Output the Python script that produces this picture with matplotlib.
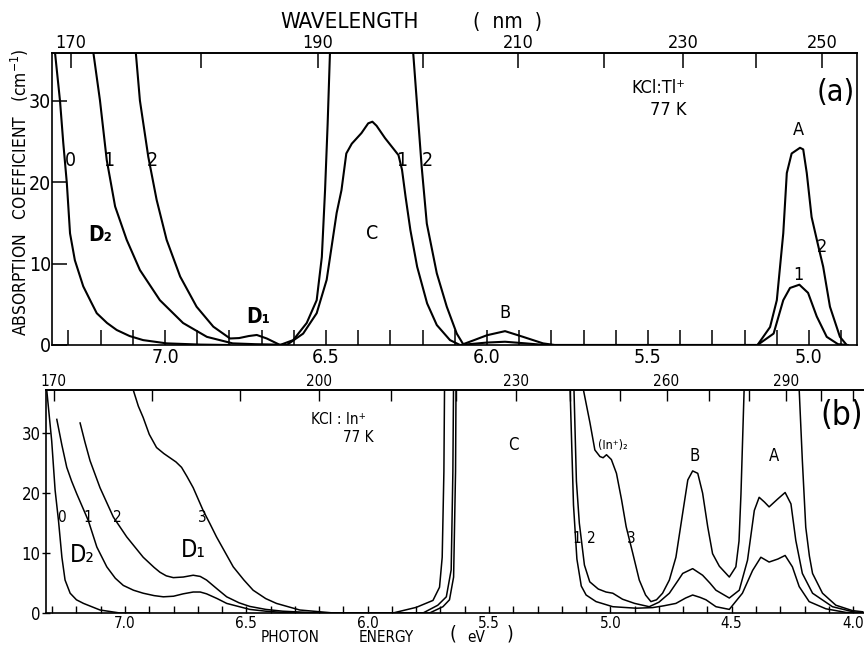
import numpy as np
import matplotlib
matplotlib.use("Agg")
import matplotlib.pyplot as plt
from matplotlib.ticker import MultipleLocator, FixedLocator

nan = np.nan

# ---------------- data: panel (a) KCl:Tl+ 77 K ----------------
a0_E = [7.348, 7.342, 7.326, 7.316, 7.305, 7.295, 7.28, 7.254, 7.23, 7.212, 7.18, 7.15, 7.11, 7.068, 6.995, 6.89, 6.8]
a0_a = [38, 36, 29.9, 24.8, 19.9, 13.7, 10.4, 7.2, 5.3, 3.9, 2.7, 1.84, 1.1, 0.6, 0.2, 0.05, 0]

a1_E = [7.228, 7.223, 7.202, 7.181, 7.155, 7.119, 7.078, 7.016, 6.944, 6.87, 6.79, 6.72, 6.66, 6.622,
        6.571, 6.529, 6.498, 6.467, 6.452, 6.437, 6.42, 6.39, 6.369, 6.356, 6.343, 6.317, 6.291, 6.275,
        6.264, 6.253, 6.238, 6.217, 6.186, 6.156, 6.115, 6.084, 6.0, 5.944, 5.88, 5.82, 5.16, 5.11,
        5.08, 5.059, 5.03, 5.003, 4.976, 4.945, 4.91, 4.88]
a1_a = [38, 36, 30, 22.7, 17, 12.9, 9.2, 5.5, 2.7, 1.0, 0.2, 0.1, 0.05, 0,
        1.4, 3.9, 8.0, 16.2, 19.0, 23.5, 24.7, 26.0, 27.2, 27.4, 26.9, 25.4, 24.1, 23.3,
        21.5, 18.2, 14.1, 9.6, 5.1, 2.45, 0.6, 0, 0.3, 0.4, 0.2, 0, 0, 1.4,
        5.5, 7.0, 7.4, 6.4, 3.5, 1.0, 0.1, 0]

a2_E = [7.095, 7.091, 7.078, 7.052, 7.026, 6.995, 6.953, 6.902, 6.85, 6.798, 6.77, 6.74, 6.715, 6.684,
        6.653, 6.643, 6.602, 6.56, 6.529, 6.513, 6.503, 6.495, 6.486, nan,
        6.232, 6.229, 6.213, 6.203, 6.187, 6.156, 6.125, 6.094, 6.074, 6.04, 6.0, 5.944, 5.888, 5.826,
        5.79, 5.16, 5.121, 5.1, 5.08, 5.069, 5.054, 5.028, 5.018, 5.007, 4.992, 4.971, 4.956, 4.935,
        4.904, 4.883]
a2_a = [38, 36, 30, 23.1, 17.8, 12.9, 8.4, 4.7, 2.25, 0.8, 0.85, 1.1, 1.23, 0.8,
        0.2, 0, 0.6, 2.7, 5.5, 10.8, 19.0, 27.1, 38, nan,
        38, 35.7, 27.2, 21.9, 14.9, 8.8, 4.7, 1.4, 0.1, 0.6, 1.2, 1.7, 1.0, 0.2,
        0, 0, 2.2, 5.5, 13.7, 21.1, 23.5, 24.2, 24.0, 21.1, 15.7, 12.1, 9.6, 4.7,
        1.0, 0]

# ---------------- data: panel (b) KCl:In+ 77 K ----------------
b0_E = [7.33, 7.322, 7.302, 7.288, 7.274, 7.26, 7.247, 7.226, 7.2, 7.171, 7.103, 7.021, 6.9]
b0_a = [40, 37, 28.7, 20.5, 15.4, 9.3, 5.5, 3.3, 2.2, 1.6, 0.5, 0, 0]

b1_E = [7.281, 7.26, 7.24, 7.22, 7.199, 7.151, 7.116, 7.075, 7.04, 7.007, 6.965, 6.925, 6.88, 6.842,
        6.8, 6.76, 6.719, 6.69, 6.664, 6.62, 6.581, 6.486, 6.42, 6.35, 6.2, 5.95, 5.82, 5.745, 5.69,
        5.663, 5.646, 5.638, 5.635, nan,
        5.168, 5.166, 5.152, 5.138, 5.12, 5.1, 5.059, 4.99, 4.894, 4.826, 4.78, 4.73, 4.69, 4.661,
        4.63, 4.606, 4.565, 4.51, 4.456, 4.414, 4.38, 4.346, 4.31, 4.28, 4.25, 4.222, 4.181, 4.112,
        4.03, 3.96]
b1_a = [32.3, 28.0, 24.3, 22.0, 19.9, 15.4, 11, 7.7, 5.8, 4.6, 3.8, 3.3, 2.9, 2.7,
        2.8, 3.2, 3.5, 3.5, 3.2, 2.4, 1.6, 0.6, 0.3, 0.1, 0, 0, 0, 0, 1.05,
        2.2, 6, 23.6, 45, nan,
        45, 37.2, 18, 9, 4.5, 3, 1.9, 1.05, 0.8, 0.9, 1.2, 1.6, 2.5, 3.0,
        2.6, 2.2, 1.05, 0.6, 3.3, 7.1, 9.3, 8.5, 9.0, 9.6, 7.7, 4.4, 1.9, 0.7,
        0.1, 0]

b2_E = [7.185, 7.165, 7.144, 7.103, 7.048, 6.993, 6.925, 6.88, 6.856, 6.83, 6.801, 6.76, 6.719, 6.69,
        6.664, 6.62, 6.581, 6.53, 6.486, 6.42, 6.35, 6.2, 5.95, 5.85, 5.772, 5.711, 5.676, 5.656,
        5.649, 5.645, nan,
        5.152, 5.15, 5.14, 5.128, 5.107, 5.085, 5.05, 5.018, 4.99, 4.95, 4.9, 4.84, 4.8, 4.757, 4.72,
        4.702, 4.661, 4.62, 4.59, 4.565, 4.51, 4.469, 4.435, 4.407, 4.387, 4.365, 4.346, 4.311, 4.28,
        4.256, 4.236, 4.209, 4.167, 4.085, 4.0, 3.96]
b2_a = [31.7, 28.5, 25.4, 20.9, 16, 12.7, 9.3, 7.6, 6.8, 6.2, 5.9, 6.0, 6.3, 6.1,
        5.5, 4.0, 2.7, 1.7, 1.1, 0.6, 0.3, 0, 0, 0, 0, 1.3, 2.7, 7.2,
        23.6, 45, nan,
        45, 37.2, 22, 15, 8, 5.2, 4.0, 3.5, 3.3, 2.3, 1.6, 1.05, 1.8, 3.3, 5.5,
        6.6, 7.4, 6.3, 5.0, 3.8, 2.5, 3.8, 8.8, 17.1, 19.3, 18.5, 17.7, 19.0, 20.1,
        18.2, 12.1, 6.6, 3.3, 1.05, 0.2, 0]

b3_E = [6.99, 6.966, 6.945, 6.925, 6.9, 6.87, 6.84, 6.815, 6.79, 6.767, 6.745, 6.719, 6.678, 6.65,
        6.623, 6.554, 6.51, 6.472, 6.42, 6.376, 6.28, 6.14, 5.95, 5.896, 5.8, 5.731, 5.704, 5.693,
        5.686, 5.682, nan,
        5.114, 5.111, 5.084, 5.064, 5.043, 5.03, 5.016, 4.996, 4.975, 4.954, 4.935, 4.908, 4.881,
        4.855, 4.833, 4.81, 4.785, 4.757, 4.73, 4.702, 4.681, 4.661, 4.64, 4.62, 4.599, 4.579, 4.551,
        4.51, 4.483, 4.47, 4.462, 4.449, 4.446, nan,
        4.224, 4.222, 4.209, 4.195, 4.18, 4.167, 4.126, 4.071, 4.003, 3.96]
b3_a = [42, 37.2, 34.5, 32.6, 29.8, 27.6, 26.6, 25.9, 25.2, 24.3, 22.8, 20.9, 17.1, 14.9,
        12.7, 7.7, 5.5, 3.8, 2.4, 1.6, 0.5, 0, 0, 0, 0.94, 2.1, 4.3, 9.3,
        23.6, 45, nan,
        45, 37.2, 31.7, 27.2, 26.1, 25.9, 26.4, 25.6, 23.3, 18.9, 14.4, 10.0, 5.5,
        3.0, 1.9, 2.2, 3.3, 5.5, 9.3, 16.7, 22.2, 23.7, 23.3, 20.0, 14.4, 9.9, 7.8,
        6.0, 7.7, 12, 19.8, 37.2, 45, nan,
        45, 37.2, 25.4, 14.3, 9.5, 6.6, 3.3, 1.3, 0.4, 0.2]

# ---------------- tick values / labels ----------------
alpha_ticks = [0, 10, 20, 30]
a_energy_ticks = [7.0, 6.5, 6.0, 5.5, 5.0]
a_wl_major = [170, 190, 210, 230, 250]
a_wl_minor = [180, 200, 220, 240]
b_energy_ticks = [7.0, 6.5, 6.0, 5.5, 5.0, 4.5, 4.0]
b_wl_major = [170, 200, 230, 260, 290]
b_wl_minor = [180, 190, 210, 220, 240, 250, 270, 280, 300, 310]

HC = 1239.84


def e2nm(e):
    e = np.asarray(e, dtype=float)
    with np.errstate(divide='ignore', invalid='ignore'):
        return HC / e


plt.rcParams['font.family'] = ['DejaVu Sans']
plt.rcParams['font.stretch'] = 'condensed'
plt.rcParams['axes.linewidth'] = 1.2

W, H = 864, 645
fig = plt.figure(figsize=(W / 100, H / 100), dpi=100)


def px_rect(l, t, r, b):
    return [l / W, 1 - b / H, (r - l) / W, (b - t) / H]


def ftext(x, y, s, **kw):
    fig.text(x / W, 1 - y / H, s, ha='center', va='center', **kw)


LW = 1.5
# ---------------- panel (a) ----------------
ax = fig.add_axes(px_rect(52, 53, 857, 345))
for E, A in [(a0_E, a0_a), (a1_E, a1_a), (a2_E, a2_a)]:
    ax.plot(E, A, color='black', lw=LW, solid_joinstyle='round')
ax.set_xlim(7.351, 4.851)
ax.set_ylim(0, 35.83)
ax.set_xticks(a_energy_ticks)
ax.set_xticklabels([f"{v:.1f}" for v in a_energy_ticks])
ax.xaxis.set_minor_locator(MultipleLocator(0.1))
ax.set_yticks(alpha_ticks)
ax.tick_params(axis='x', which='both', direction='in', length=11, width=1.1, labelsize=14, pad=2)
ax.tick_params(axis='y', which='both', direction='in', length=11, width=1.1, labelsize=14, pad=0.5)
seca = ax.secondary_xaxis('top', functions=(e2nm, e2nm))
seca.set_xticks(a_wl_major)
seca.xaxis.set_minor_locator(FixedLocator(a_wl_minor))
seca.tick_params(which='both', direction='in', length=11, width=1.1, labelsize=13, pad=1)

tk = dict(ha='center', va='center', fontsize=14)
ax.text(7.295, 22.7, '0', **tk)
ax.text(7.174, 22.7, '1', **tk)
ax.text(7.040, 22.7, '2', **tk)
ax.text(7.202, 13.5, 'D₂', fontsize=15, fontweight='bold', ha='center', va='center')
ax.text(6.711, 3.4, 'D₁', fontsize=15, fontweight='bold', ha='center', va='center')
ax.text(6.357, 13.7, 'C', **tk)
ax.text(6.264, 22.7, '1', **tk)
ax.text(6.186, 22.7, '2', **tk)
ax.text(5.944, 3.9, 'B', fontsize=13, ha='center', va='center')
ax.text(5.034, 26.4, 'A', fontsize=13, ha='center', va='center')
ax.text(4.959, 12.0, '2', fontsize=13, ha='center', va='center')
ax.text(5.034, 8.6, '1', fontsize=13, ha='center', va='center')
ax.text(5.469, 31.5, 'KCl:Tl⁺', fontsize=13, ha='center', va='center')
ax.text(5.438, 28.8, '77 K', fontsize=13, ha='center', va='center')
ax.text(4.916, 31.0, '(a)', fontsize=22, ha='center', va='center')

# ---------------- panel (b) ----------------
bx = fig.add_axes(px_rect(46, 390, 864, 613))
LWb = 1.1
for E, A in [(b0_E, b0_a), (b1_E, b1_a), (b2_E, b2_a), (b3_E, b3_a)]:
    bx.plot(E, A, color='black', lw=LWb, solid_joinstyle='round')
bx.set_xlim(7.3255, 3.955)
bx.set_ylim(0, 37.2)
bx.spines['right'].set_visible(False)
bx.set_xticks(b_energy_ticks)
bx.set_xticklabels([f"{v:.1f}" for v in b_energy_ticks])
bx.xaxis.set_minor_locator(MultipleLocator(0.1))
bx.set_yticks(alpha_ticks)
bx.tick_params(axis='x', which='both', direction='in', length=5, width=1.0, labelsize=11, pad=2)
bx.tick_params(axis='y', which='both', direction='inout', length=6, width=1.0, labelsize=12, pad=1)
secb = bx.secondary_xaxis('top', functions=(e2nm, e2nm))
secb.set_xticks(b_wl_major)
secb.xaxis.set_minor_locator(FixedLocator(b_wl_minor))
secb.tick_params(which='both', direction='in', length=8, width=1.0, labelsize=11, pad=1)

tb = dict(ha='center', va='center', fontsize=11)
bx.text(7.260, 15.9, '0', **tb)
bx.text(7.152, 16.0, '1', **tb)
bx.text(7.033, 16.0, '2', **tb)
bx.text(6.683, 16.0, '3', **tb)
bx.text(7.177, 9.7, 'D₂', fontsize=17, ha='center', va='center')
bx.text(6.720, 10.5, 'D₁', fontsize=17, ha='center', va='center')
bx.text(6.122, 32.2, 'KCl : In⁺', fontsize=11, ha='center', va='center')
bx.text(6.040, 29.2, '77 K', fontsize=11, ha='center', va='center')
bx.text(5.401, 28.0, 'C', fontsize=12, ha='center', va='center')
bx.text(5.138, 12.4, '1', **tb)
bx.text(5.080, 12.4, '2', **tb)
bx.text(4.915, 12.4, '3', **tb)
bx.text(4.989, 28.0, '(In⁺)₂', fontsize=9, ha='center', va='center')
bx.text(4.651, 26.2, 'B', fontsize=12, ha='center', va='center')
bx.text(4.326, 26.2, 'A', fontsize=12, ha='center', va='center')
bx.text(4.046, 33.0, '(b)', fontsize=24, ha='center', va='center')

# ---------------- figure-level labels ----------------
ftext(350, 22, 'WAVELENGTH', fontsize=16)
ftext(508, 22, '(  nm  )', fontsize=15)
ftext(20, 192, 'ABSORPTION   COEFFICIENT   (cm$^{-1}$)', fontsize=12.5, rotation=90)
ftext(290, 637, 'PHOTON', fontsize=11)
ftext(386, 637, 'ENERGY', fontsize=11)
ftext(453, 634, '(', fontsize=14)
ftext(476, 637, 'eV', fontsize=11)
ftext(510, 634, ')', fontsize=14)

fig.savefig('out.png', dpi=100)
